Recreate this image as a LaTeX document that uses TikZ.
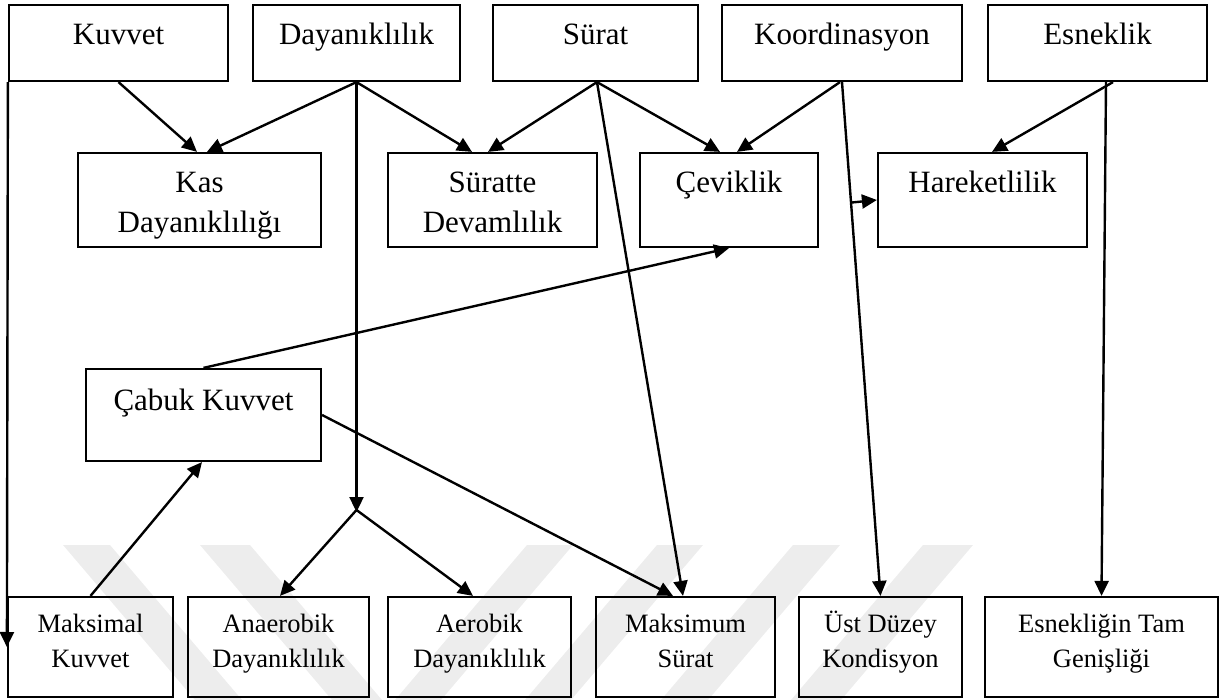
\documentclass[tikz,border=0pt]{standalone}
\usepackage{fontspec}
\setmainfont{Liberation Serif}
\usetikzlibrary{arrows.meta,calc}
\tikzset{
  box/.style={draw=black, line width=2.2pt, inner sep=0pt, fill=none, rectangle},
  top/.style={box, minimum height=76pt},
  mid/.style={box, minimum height=94pt},
  bot/.style={box, minimum height=100pt},
  bigtxt/.style={anchor=base, inner sep=0pt, font=\fontsize{31}{40}\selectfont},
  smalltxt/.style={anchor=base, inner sep=0pt, font=\fontsize{26.5}{35}\selectfont},
  conn/.style={line width=2.4pt, -{Triangle[length=15pt,width=14pt]}},
  wm/.style={fill=black!7, draw=none}
}
\begin{document}
\begin{tikzpicture}[x=1pt,y=-1pt]
\useasboundingbox (0,0) rectangle (1221,700);
% watermark bands
\fill[wm] (63,545) -- (110,545) -- (242,700) -- (195,700) -- cycle;
\fill[wm] (200,545) -- (250,545) -- (382,700) -- (332,700) -- cycle;
\fill[wm] (527,545) -- (573,545) -- (441,700) -- (395,700) -- cycle;
\fill[wm] (657,545) -- (703,545) -- (571,700) -- (525,700) -- cycle;
\fill[wm] (793,545) -- (840,545) -- (708,700) -- (661,700) -- cycle;
\fill[wm] (923,545) -- (973,545) -- (841,700) -- (791,700) -- cycle;
% top row
\node[top, minimum width=219pt] (kuv) at (118.5,43) {};
\node[top, minimum width=207pt] (day) at (356.5,43) {};
\node[top, minimum width=205pt] (sur) at (595.5,43) {};
\node[top, minimum width=240pt] (koo) at (842,43) {};
\node[top, minimum width=219pt] (esn) at (1097.5,43) {};
\node[bigtxt] (tkuv) at (118.5,45) {Kuvvet};
\node[bigtxt] (tday) at (356.5,45) {Dayanıklılık};
\node[bigtxt] (tsur) at (595.5,45) {Sürat};
\node[bigtxt] (tkoo) at (842,45) {Koordinasyon};
\node[bigtxt] (tesn) at (1097.5,45) {Esneklik};
% middle row
\node[mid, minimum width=243pt] (kas) at (199.5,200) {};
\node[mid, minimum width=209pt] (srd) at (492.5,200) {};
\node[mid, minimum width=178pt] (cev) at (729,200) {};
\node[mid, minimum width=209pt] (har) at (982.5,200) {};
\node[bigtxt] (tkas) at (199.5,193) {\begin{tabular}[t]{@{}c@{}}Kas\\Dayanıklılığı\end{tabular}};
\node[bigtxt] (tsrd) at (492.5,193) {\begin{tabular}[t]{@{}c@{}}Süratte\\Devamlılık\end{tabular}};
\node[bigtxt] (tcev) at (729,193) {Çeviklik};
\node[bigtxt] (thar) at (982.5,193) {Hareketlilik};
% Cabuk Kuvvet
\node[box, minimum width=235pt, minimum height=92pt] (cab) at (203.5,415) {};
\node[bigtxt] (tcab) at (203.5,410) {Çabuk Kuvvet};
% bottom row
\node[bot, minimum width=165pt] (mak) at (90.5,647) {};
\node[bot, minimum width=181pt] (ana) at (278.5,647) {};
\node[bot, minimum width=183pt] (aer) at (479.5,647) {};
\node[bot, minimum width=179pt] (mks) at (685.5,647) {};
\node[bot, minimum width=163pt] (ust) at (880.5,647) {};
\node[bot, minimum width=233pt] (esg) at (1101.5,647) {};
\node[smalltxt] (tmak) at (90.5,632) {\begin{tabular}[t]{@{}c@{}}Maksimal\\Kuvvet\end{tabular}};
\node[smalltxt] (tana) at (278.5,632) {\begin{tabular}[t]{@{}c@{}}Anaerobik\\Dayanıklılık\end{tabular}};
\node[smalltxt] (taer) at (479.5,632) {\begin{tabular}[t]{@{}c@{}}Aerobik\\Dayanıklılık\end{tabular}};
\node[smalltxt] (tmks) at (685.5,632) {\begin{tabular}[t]{@{}c@{}}Maksimum\\Sürat\end{tabular}};
\node[smalltxt] (tust) at (880.5,632) {\begin{tabular}[t]{@{}c@{}}Üst Düzey\\Kondisyon\end{tabular}};
\node[smalltxt] (tesg) at (1101.5,632) {\begin{tabular}[t]{@{}c@{}}Esnekliğin Tam\\Genişliği\end{tabular}};
% junction
\coordinate (J) at (356.5,510);
\coordinate (K) at ($(koo.south)!0.2345!(ust.north)$);
% connectors
\draw[conn] (kuv.south west) -- (mak.west);
\draw[conn] (kuv.south) -- ([xshift=-2.5pt]kas.north);
\draw[conn] (day.south) -- ([xshift=7.5pt]kas.north);
\draw[conn] (day.south) -- ([yshift=-2pt]J);
\draw[conn] (day.south) -- ([xshift=-20.5pt]srd.north);
\draw[conn] ([xshift=1.5pt]sur.south) -- ([xshift=-4.5pt]srd.north);
\draw[conn] ([xshift=1.5pt]sur.south) -- ([xshift=-9pt]cev.north);
\draw[conn] ([xshift=1.5pt]sur.south) -- ([xshift=-2.5pt]mks.north);
\draw[conn] ([xshift=-2pt]koo.south) -- ([xshift=8pt]cev.north);
\draw[conn] (koo.south) -- (ust.north);
\draw[conn] (K) -- (har.west);
\draw[conn] ([xshift=15.5pt]esn.south) -- ([xshift=9.5pt]har.north);
\draw[conn] ([xshift=8.5pt]esn.south) -- (esg.north);
\draw[conn] (cab.north) -- (cev.south);
\draw[conn] (cab.east) -- ([xshift=-12.5pt]mks.north);
\draw[conn] (mak.north) -- ([xshift=-1.5pt]cab.south);
\draw[conn] (J) -- ([xshift=1.5pt]ana.north);
\draw[conn] (J) -- ([xshift=-6.5pt]aer.north);
\end{tikzpicture}
\end{document}
